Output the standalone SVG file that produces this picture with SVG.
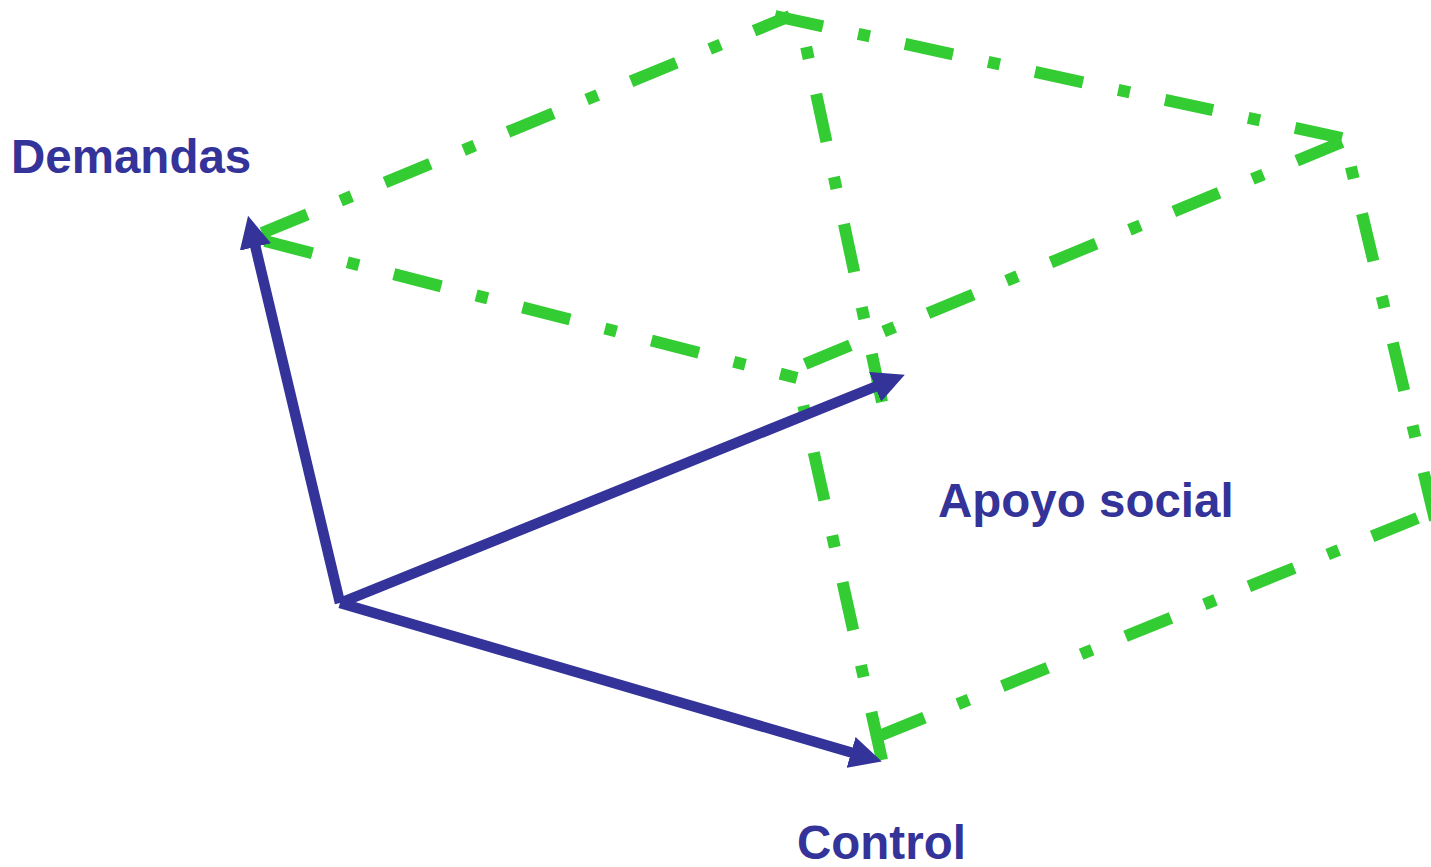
<svg xmlns="http://www.w3.org/2000/svg" width="1431" height="867" viewBox="0 0 1431 867">
<style>
.g{stroke:#33CC33;stroke-width:12;stroke-dasharray:49 36 12 36;fill:none;stroke-linecap:butt}
.b{stroke:#333399;stroke-width:10.5;fill:none}
.t{font-family:"Liberation Sans",Arial,sans-serif;font-weight:bold;font-size:47.5px;fill:#333399}
</style>
<defs>
<marker id="ah" markerUnits="userSpaceOnUse" viewBox="0 0 32 32" refX="2" refY="16" markerWidth="32" markerHeight="32" orient="auto">
<path d="M0,0 L32,16 L0,32 z" fill="#333399"/>
</marker>
</defs>
<rect width="1431" height="867" fill="#ffffff"/>
<g id="connectors">
<g id="box">
<line class="g" x1="262" y1="233" x2="790" y2="16"/>
<line class="g" x1="775" y1="16" x2="1342" y2="138"/>
<line class="g" x1="265" y1="241" x2="797" y2="378"/>
<line class="g" x1="1342" y1="142" x2="793" y2="369"/>
<line class="g" x1="882" y1="402" x2="800" y2="18"/>
<line class="g" x1="882" y1="760" x2="797" y2="377"/>
<line class="g" x1="1435" y1="520" x2="1345" y2="142"/>
<line class="g" x1="879" y1="736" x2="1435" y2="511"/>
</g>
<g id="axes">
<line class="b" x1="340" y1="603" x2="255" y2="245" marker-end="url(#ah)"/>
<line class="b" x1="340" y1="603" x2="877" y2="386" marker-end="url(#ah)"/>
<line class="b" x1="340" y1="603" x2="853" y2="753" marker-end="url(#ah)"/>
</g>
</g>
<g id="demandas"><text class="t" x="11" y="173">Demandas</text></g>
<g id="apoyo"><text class="t" x="938" y="517">Apoyo social</text></g>
<g id="control"><text class="t" x="797" y="859">Control</text></g>
</svg>
